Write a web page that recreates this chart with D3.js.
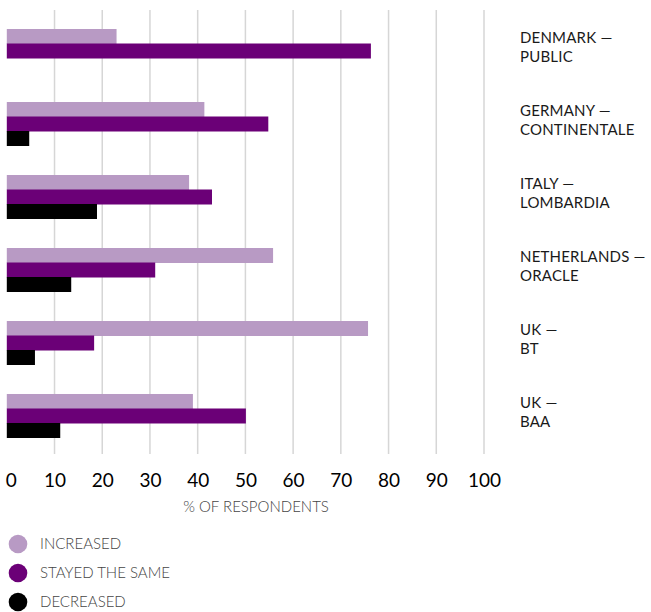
<!DOCTYPE html>
<html>
<head>
<meta charset="utf-8">
<script src="https://cdnjs.cloudflare.com/ajax/libs/d3/7.8.5/d3.min.js"></script>
<style>
    body { margin: 0; background: #fff; }
    svg { display: block; font-family: Lato, 'Open Sans', sans-serif; }
    .tick-label { font-size: 19px; fill: #000; }
    .cat-label { font-size: 15px; fill: #1a1a1a; letter-spacing: 0.2px; }
    .legend-label, .axis-title { font-size: 15px; fill: #444; font-weight: 300; }
</style>
</head>
<body>
<svg width="651" height="612"></svg>
<script>
// data
var categories = ["DENMARK — PUBLIC", "GERMANY — CONTINENTALE", "ITALY — LOMBARDIA",
                  "NETHERLANDS — ORACLE", "UK — BT", "UK — BAA"];
var seriesNames = ["INCREASED", "STAYED THE SAME", "DECREASED"];
var increased = [23, 41.4, 38.2, 55.8, 75.7, 39];
var stayedSame = [76.3, 54.8, 43, 31.1, 18.3, 50.1];
var decreased = [0, 4.7, 18.9, 13.5, 5.9, 11.2];
var tickValues = [0, 10, 20, 30, 40, 50, 60, 70, 80, 90, 100];
var colors = ["#b89ac4", "#6b0077", "#000000"];

var values = [increased, stayedSame, decreased];
var svg = d3.select("svg");

var x = d3.scaleLinear().domain([0, 100]).range([6.8, 484]);
var y0 = d3.scaleBand().domain(categories).range([29, 437.5]).paddingInner(0.404).paddingOuter(0);
var y1 = d3.scaleBand().domain(seriesNames).range([0, y0.bandwidth()]);

// gridlines
svg.append("g")
    .selectAll("line")
    .data(tickValues.filter(function(d) { return d > 0; }))
    .enter().append("line")
    .attr("x1", function(d) { return x(d); })
    .attr("x2", function(d) { return x(d); })
    .attr("y1", 10)
    .attr("y2", 454)
    .attr("stroke", "#d6d6d6")
    .attr("stroke-width", 1.5);

// bars
var groups = svg.append("g").selectAll("g")
    .data(categories)
    .enter().append("g")
    .attr("transform", function(d) { return "translate(0," + y0(d) + ")"; });

groups.selectAll("rect")
    .data(function(d, i) {
        return seriesNames.map(function(s, j) { return {s: s, v: values[j][i], c: colors[j]}; });
    })
    .enter().append("rect")
    .attr("x", x(0))
    .attr("y", function(d) { return y1(d.s); })
    .attr("height", y1.bandwidth() + 0.5)
    .attr("width", function(d) { return x(d.v) - x(0); })
    .attr("fill", function(d) { return d.c; });

// category labels, two lines
groups.append("text")
    .attr("class", "cat-label")
    .each(function(d) {
        var parts = d.split(" — ");
        var t = d3.select(this);
        t.append("tspan").attr("x", 520).attr("y", 14).text(parts[0] + " —");
        t.append("tspan").attr("x", 520).attr("y", 33).text(parts[1]);
    });

// x axis
var xAxis = svg.append("g")
    .attr("transform", "translate(0,470)")
    .call(d3.axisBottom(x).tickValues(tickValues).tickSize(0).tickPadding(0));
xAxis.select(".domain").remove();
xAxis.attr("font-size", null).attr("font-family", null);
xAxis.selectAll("text")
    .attr("class", "tick-label")
    .attr("dy", "0.9em")
    .attr("fill", null);
xAxis.select(".tick text").attr("dx", 4);

svg.append("text")
    .attr("class", "axis-title")
    .attr("x", 256)
    .attr("y", 512)
    .attr("text-anchor", "middle")
    .text("% OF RESPONDENTS");

// legend
var legend = svg.append("g").selectAll("g")
    .data(seriesNames)
    .enter().append("g")
    .attr("transform", function(d, i) { return "translate(0," + (544 + i * 29) + ")"; });
legend.append("circle")
    .attr("cx", 18)
    .attr("r", 9.3)
    .attr("fill", function(d, i) { return colors[i]; });
legend.append("text")
    .attr("class", "legend-label")
    .attr("x", 40)
    .attr("dy", "0.35em")
    .text(function(d) { return d; });
</script>
</body>
</html>
